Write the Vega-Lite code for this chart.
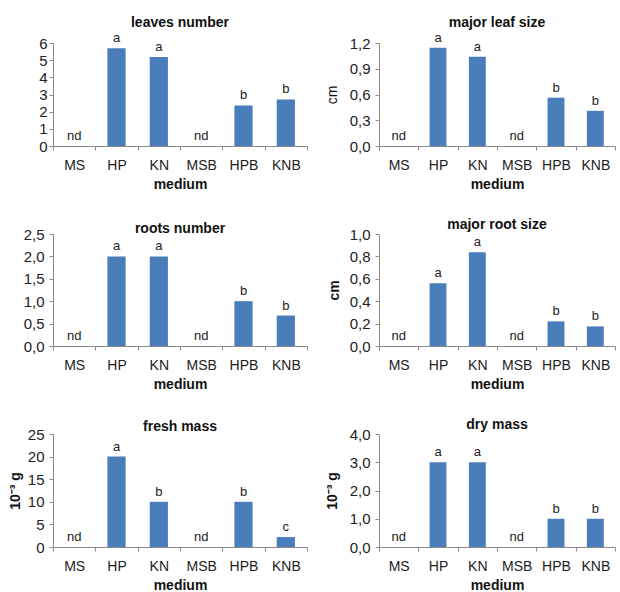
{
  "$schema": "https://vega.github.io/schema/vega-lite/v6.json",
  "padding": {"left": 8, "top": 15, "right": 2, "bottom": 0},
  "datasets": {
    "d": [
      {"panel": "leaves", "medium": "MS", "value": 0, "label": "nd"},
      {"panel": "leaves", "medium": "HP", "value": 5.7, "label": "a"},
      {"panel": "leaves", "medium": "KN", "value": 5.18, "label": "a"},
      {"panel": "leaves", "medium": "MSB", "value": 0, "label": "nd"},
      {"panel": "leaves", "medium": "HPB", "value": 2.36, "label": "b"},
      {"panel": "leaves", "medium": "KNB", "value": 2.71, "label": "b"},
      {"panel": "leafsize", "medium": "MS", "value": 0, "label": "nd"},
      {"panel": "leafsize", "medium": "HP", "value": 1.145, "label": "a"},
      {"panel": "leafsize", "medium": "KN", "value": 1.04, "label": "a"},
      {"panel": "leafsize", "medium": "MSB", "value": 0, "label": "nd"},
      {"panel": "leafsize", "medium": "HPB", "value": 0.563, "label": "b"},
      {"panel": "leafsize", "medium": "KNB", "value": 0.41, "label": "b"},
      {"panel": "roots", "medium": "MS", "value": 0, "label": "nd"},
      {"panel": "roots", "medium": "HP", "value": 2.0, "label": "a"},
      {"panel": "roots", "medium": "KN", "value": 2.0, "label": "a"},
      {"panel": "roots", "medium": "MSB", "value": 0, "label": "nd"},
      {"panel": "roots", "medium": "HPB", "value": 1.0, "label": "b"},
      {"panel": "roots", "medium": "KNB", "value": 0.68, "label": "b"},
      {"panel": "rootsize", "medium": "MS", "value": 0, "label": "nd"},
      {"panel": "rootsize", "medium": "HP", "value": 0.56, "label": "a"},
      {"panel": "rootsize", "medium": "KN", "value": 0.837, "label": "a"},
      {"panel": "rootsize", "medium": "MSB", "value": 0, "label": "nd"},
      {"panel": "rootsize", "medium": "HPB", "value": 0.22, "label": "b"},
      {"panel": "rootsize", "medium": "KNB", "value": 0.175, "label": "b"},
      {"panel": "fresh", "medium": "MS", "value": 0, "label": "nd"},
      {"panel": "fresh", "medium": "HP", "value": 20, "label": "a"},
      {"panel": "fresh", "medium": "KN", "value": 10, "label": "b"},
      {"panel": "fresh", "medium": "MSB", "value": 0, "label": "nd"},
      {"panel": "fresh", "medium": "HPB", "value": 10, "label": "b"},
      {"panel": "fresh", "medium": "KNB", "value": 2.2, "label": "c"},
      {"panel": "dry", "medium": "MS", "value": 0, "label": "nd"},
      {"panel": "dry", "medium": "HP", "value": 3.0, "label": "a"},
      {"panel": "dry", "medium": "KN", "value": 3.0, "label": "a"},
      {"panel": "dry", "medium": "MSB", "value": 0, "label": "nd"},
      {"panel": "dry", "medium": "HPB", "value": 1.0, "label": "b"},
      {"panel": "dry", "medium": "KNB", "value": 1.0, "label": "b"}
    ]
  },
  "data": {"name": "d"},
  "columns": 2,
  "spacing": {"row": 88, "column": 72},
  "bounds": "flush",
  "concat": [
    {
      "title": {"text": "leaves  number", "offset": 2},
      "width": 254, "height": 103,
      "transform": [{"filter": "datum.panel == 'leaves'"}],
      "encoding": {
        "x": {"field": "medium", "type": "nominal", "sort": ["MS", "HP", "KN", "MSB", "HPB", "KNB"], "scale": {"paddingInner": 0, "paddingOuter": 0}, "title": "medium"},
        "y": {"field": "value", "type": "quantitative", "scale": {"domain": [0, 6]}, "axis": {"values": [0, 1, 2, 3, 4, 5, 6], "format": "d", "title": null, "labelPadding": 2}}
      },
      "layer": [
        {"mark": {"type": "bar", "width": {"band": 0.43}, "color": "#4A7EBB"}},
        {"mark": {"type": "text", "dy": -3, "baseline": "bottom", "fontSize": 13, "font": "Liberation Sans", "color": "#222"}, "encoding": {"text": {"field": "label"}}}
      ]
    },
    {
      "title": {"text": "major leaf size", "offset": 2},
      "width": 236, "height": 103,
      "transform": [{"filter": "datum.panel == 'leafsize'"}],
      "encoding": {
        "x": {"field": "medium", "type": "nominal", "sort": ["MS", "HP", "KN", "MSB", "HPB", "KNB"], "scale": {"paddingInner": 0, "paddingOuter": 0}, "title": "medium"},
        "y": {"field": "value", "type": "quantitative", "scale": {"domain": [0, 1.2]}, "axis": {"values": [0, 0.3, 0.6, 0.9, 1.2], "format": ".1f", "title": "cm", "titleFontWeight": "normal", "titlePadding": 10}}
      },
      "layer": [
        {"mark": {"type": "bar", "width": {"band": 0.43}, "color": "#4A7EBB"}},
        {"mark": {"type": "text", "dy": -3, "baseline": "bottom", "fontSize": 13, "font": "Liberation Sans", "color": "#222"}, "encoding": {"text": {"field": "label"}}}
      ]
    },
    {
      "title": {"text": "roots number", "offset": 0, "dy": 9},
      "width": 254, "height": 112,
      "transform": [{"filter": "datum.panel == 'roots'"}],
      "encoding": {
        "x": {"field": "medium", "type": "nominal", "sort": ["MS", "HP", "KN", "MSB", "HPB", "KNB"], "scale": {"paddingInner": 0, "paddingOuter": 0}, "title": "medium"},
        "y": {"field": "value", "type": "quantitative", "scale": {"domain": [0, 2.5]}, "axis": {"values": [0, 0.5, 1, 1.5, 2, 2.5], "format": ".1f", "title": null}}
      },
      "layer": [
        {"mark": {"type": "bar", "width": {"band": 0.43}, "color": "#4A7EBB"}},
        {"mark": {"type": "text", "dy": -3, "baseline": "bottom", "fontSize": 13, "font": "Liberation Sans", "color": "#222"}, "encoding": {"text": {"field": "label"}}}
      ]
    },
    {
      "title": {"text": "major root size", "offset": 0, "dy": 5},
      "width": 236, "height": 112,
      "transform": [{"filter": "datum.panel == 'rootsize'"}],
      "encoding": {
        "x": {"field": "medium", "type": "nominal", "sort": ["MS", "HP", "KN", "MSB", "HPB", "KNB"], "scale": {"paddingInner": 0, "paddingOuter": 0}, "title": "medium"},
        "y": {"field": "value", "type": "quantitative", "scale": {"domain": [0, 1]}, "axis": {"values": [0, 0.2, 0.4, 0.6, 0.8, 1], "format": ".1f", "title": "cm", "titlePadding": 8}}
      },
      "layer": [
        {"mark": {"type": "bar", "width": {"band": 0.43}, "color": "#4A7EBB"}},
        {"mark": {"type": "text", "dy": -3, "baseline": "bottom", "fontSize": 13, "font": "Liberation Sans", "color": "#222"}, "encoding": {"text": {"field": "label"}}}
      ]
    },
    {
      "title": {"text": "fresh mass", "offset": 0, "dy": 7},
      "width": 254, "height": 113,
      "transform": [{"filter": "datum.panel == 'fresh'"}],
      "encoding": {
        "x": {"field": "medium", "type": "nominal", "sort": ["MS", "HP", "KN", "MSB", "HPB", "KNB"], "scale": {"paddingInner": 0, "paddingOuter": 0}, "title": "medium"},
        "y": {"field": "value", "type": "quantitative", "scale": {"domain": [0, 25]}, "axis": {"values": [0, 5, 10, 15, 20, 25], "format": "d", "title": "10⁻³ g", "titlePadding": 5}}
      },
      "layer": [
        {"mark": {"type": "bar", "width": {"band": 0.43}, "color": "#4A7EBB"}},
        {"mark": {"type": "text", "dy": -3, "baseline": "bottom", "fontSize": 13, "font": "Liberation Sans", "color": "#222"}, "encoding": {"text": {"field": "label"}}}
      ]
    },
    {
      "title": {"text": "dry mass", "offset": 0, "dy": 5},
      "width": 236, "height": 113,
      "transform": [{"filter": "datum.panel == 'dry'"}],
      "encoding": {
        "x": {"field": "medium", "type": "nominal", "sort": ["MS", "HP", "KN", "MSB", "HPB", "KNB"], "scale": {"paddingInner": 0, "paddingOuter": 0}, "title": "medium"},
        "y": {"field": "value", "type": "quantitative", "scale": {"domain": [0, 4]}, "axis": {"values": [0, 1, 2, 3, 4], "format": ".1f", "title": "10⁻³ g", "titlePadding": 10}}
      },
      "layer": [
        {"mark": {"type": "bar", "width": {"band": 0.43}, "color": "#4A7EBB"}},
        {"mark": {"type": "text", "dy": -3, "baseline": "bottom", "fontSize": 13, "font": "Liberation Sans", "color": "#222"}, "encoding": {"text": {"field": "label"}}}
      ]
    }
  ],
  "config": {
    "locale": {"number": {"decimal": ",", "thousands": ".", "grouping": [3], "currency": ["", " €"]}},
    "view": {"stroke": null},
    "font": "Liberation Sans",
    "title": {"font": "Liberation Sans", "fontSize": 14, "fontWeight": "bold", "color": "#111", "anchor": "middle", "frame": "group"},
    "axis": {"labelFont": "Liberation Sans", "titleFont": "Liberation Sans", "domainColor": "#8a8a8a", "tickColor": "#8a8a8a", "labelColor": "#222", "titleColor": "#111", "grid": false, "tickSize": 4, "titleFontWeight": "bold"},
    "axisX": {"labelAngle": 0, "tickBand": "extent", "labelFontSize": 14, "titleFontSize": 14, "labelPadding": 8, "titlePadding": 5},
    "axisY": {"labelFontSize": 15, "titleFontSize": 14, "labelPadding": 5, "titlePadding": 8}
  }
}
